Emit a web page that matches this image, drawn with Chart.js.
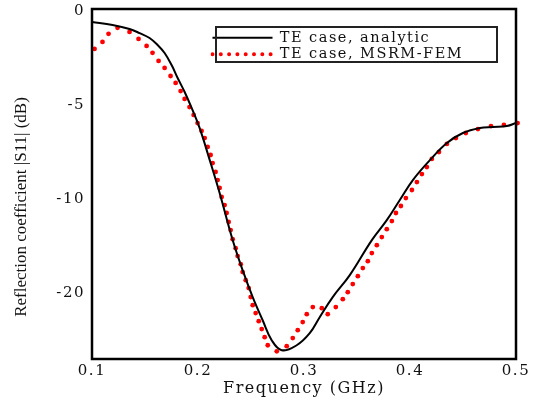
<!DOCTYPE html>
<html><head><meta charset="utf-8">
<script src="https://cdn.jsdelivr.net/npm/chart.js@4"></script>
<style>html,body{margin:0;padding:0;background:#fff}canvas{display:block}</style>
</head><body>
<canvas id="c" width="537" height="400"></canvas>
<script>
const seriesNames = ['TE case, analytic', 'TE case, MSRM-FEM'];

const analyticFreq = [0.100,0.1194,0.1354,0.1449,0.1543,0.1619,0.1685,0.1751,0.1808,0.1874,0.1940,0.2015,0.2110,0.2204,0.2327,0.2421,0.2516,0.2610,0.2695,0.2790,0.2931,0.3054,0.3148,0.3271,0.3432,0.3640,0.3781,0.3904,0.4027,0.4188,0.4348,0.4499,0.4660,0.4782,0.4914,0.500];
const analyticS11  = [-0.59,-0.75,-0.96,-1.18,-1.44,-1.81,-2.24,-2.88,-3.57,-4.31,-5.16,-6.22,-7.92,-9.68,-12.18,-13.78,-15.21,-16.44,-17.50,-18.03,-17.77,-17.13,-16.28,-15.21,-14.04,-12.18,-11.12,-10.05,-8.99,-7.93,-7.02,-6.49,-6.22,-6.17,-6.12,-5.96];

const femFreq = [0.1024,0.1099,0.1156,0.1241,0.1354,0.1439,0.1515,0.1571,0.1628,0.1685,0.1741,0.1789,0.1836,0.1874,0.1920,0.1959,0.1996,0.2034,0.2063,0.2091,0.2119,0.2138,0.2166,0.2185,0.2204,0.2223,0.2251,0.2270,0.2289,0.2308,0.2327,0.2355,0.2374,0.2403,0.2421,0.2450,0.2478,0.2497,0.2516,0.2544,0.2573,0.2601,0.2629,0.2658,0.2743,0.2837,0.2894,0.2941,0.2988,0.3026,0.3083,0.3168,0.3224,0.3300,0.3366,0.3413,0.3460,0.3508,0.3555,0.3602,0.3640,0.3687,0.3734,0.3781,0.3829,0.3867,0.3914,0.3961,0.4018,0.4065,0.4112,0.4159,0.4206,0.4273,0.4348,0.4433,0.4527,0.4641,0.4764,0.4886,0.5015];
const femS11  = [-2.02,-1.65,-1.22,-0.90,-1.12,-1.49,-1.86,-2.23,-2.66,-3.03,-3.46,-3.83,-4.26,-4.68,-5.11,-5.53,-5.96,-6.38,-6.76,-7.23,-7.66,-8.09,-8.56,-8.99,-9.41,-9.89,-10.32,-10.74,-11.22,-11.65,-12.13,-12.61,-13.03,-13.46,-13.88,-14.31,-14.73,-15.21,-15.64,-16.06,-16.49,-16.91,-17.34,-17.77,-18.09,-17.82,-17.39,-16.97,-16.54,-16.12,-15.74,-15.80,-16.12,-15.74,-15.32,-14.95,-14.52,-14.10,-13.67,-13.30,-12.87,-12.45,-12.02,-11.60,-11.17,-10.74,-10.37,-9.95,-9.52,-9.10,-8.67,-8.30,-7.87,-7.50,-7.07,-6.76,-6.49,-6.28,-6.12,-6.06,-5.96];

const xTickValues = [0.1, 0.2, 0.3, 0.4, 0.5];
const yTickValues = [0, -5, -10, -15];
const yTickLabels = ['0', '-5', '-10', '-20'];
const xTitle = 'Frequency (GHz)';
const yTitle = 'Reflection coefficient |S11| (dB)';

const TXT = '#111';
const SERIF = 'DejaVu Serif';

const toPts = (xs, ys) => xs.map((x, i) => ({x: x, y: ys[i]}));

const noPad = s => { s.paddingTop = 0; s.paddingBottom = 0; s.paddingLeft = 0; s.paddingRight = 0; };

const styling = {
  id: 'styling',
  beforeDraw(chart) {
    chart.ctx.letterSpacing = '1.5px';
  },
  afterLayout(chart) {
    const lg = chart.legend;
    if (!lg) return;
    lg.left = 210.5; lg.top = 28.5; lg.right = 537; lg.bottom = 80;
  },
  afterDraw(chart) {
    const ctx = chart.ctx, a = chart.chartArea;
    ctx.save();
    ctx.letterSpacing = '0px';
    ctx.strokeStyle = '#000';
    ctx.lineWidth = 2.5;
    ctx.strokeRect(a.left, a.top, a.right - a.left, a.bottom - a.top);
    // legend frame
    ctx.lineWidth = 2;
    ctx.strokeStyle = '#222';
    ctx.strokeRect(216, 27, 281, 35);
    // y axis title
    ctx.translate(22, 207);
    ctx.rotate(-Math.PI / 2);
    ctx.font = '17px "Liberation Serif"';
    ctx.fillStyle = TXT;
    ctx.textAlign = 'center';
    ctx.textBaseline = 'middle';
    ctx.fillText(yTitle, 0, 0);
    ctx.restore();
  }
};

new Chart(document.getElementById('c'), {
  type: 'scatter',
  data: {
    datasets: [
      {
        label: seriesNames[0],
        data: toPts(analyticFreq, analyticS11),
        showLine: true,
        borderColor: '#000',
        borderWidth: 2,
        pointRadius: 0,
        tension: 0.4
      },
      {
        label: seriesNames[1],
        data: toPts(femFreq, femS11),
        showLine: false,
        pointRadius: 2.4,
        pointBackgroundColor: '#ff0000',
        pointBorderWidth: 0,
        pointBorderColor: '#ff0000',
        clip: false
      }
    ]
  },
  options: {
    responsive: false,
    animation: false,
    layout: {padding: {left: 0, top: 9, right: 21, bottom: 0}},
    plugins: {
      tooltip: {enabled: false},
      legend: {
        position: 'chartArea',
        align: 'start',
        labels: {
          usePointStyle: true,
          pointStyleWidth: 60,
          padding: 2,
          font: {family: SERIF, size: 14.5},
          color: TXT,
          generateLabels: () => [
            {text: seriesNames[0], fontColor: TXT, strokeStyle: '#000', fillStyle: '#000', lineWidth: 2, lineDash: [], pointStyle: 'line', hidden: false, datasetIndex: 0},
            {text: seriesNames[1], fontColor: TXT, strokeStyle: '#ff0000', fillStyle: '#ff0000', lineWidth: 4, lineCap: 'round', lineDash: [0, 8.3], pointStyle: 'line', hidden: false, datasetIndex: 1}
          ]
        }
      }
    },
    scales: {
      x: {
        type: 'linear',
        min: 0.1, max: 0.5,
        afterBuildTicks: s => { s.ticks = xTickValues.map(v => ({value: v})); },
        afterFit: s => { s.height = 41; noPad(s); },
        ticks: {
          callback: v => Number(v).toFixed(1),
          font: {family: SERIF, size: 15},
          color: TXT,
          padding: 3,
          maxRotation: 0,
          autoSkip: false
        },
        grid: {display: false, drawTicks: false},
        border: {display: false},
        title: {display: true, text: xTitle, font: {family: SERIF, size: 16}, color: TXT, padding: {top: 0, bottom: 2}}
      },
      y: {
        type: 'linear',
        min: -18.5, max: 0.1,
        afterBuildTicks: s => { s.ticks = yTickValues.map(v => ({value: v})); },
        afterFit: s => { s.width = 92; noPad(s); },
        ticks: {
          callback: v => yTickLabels[yTickValues.indexOf(v)],
          font: {family: SERIF, size: 15},
          color: TXT,
          padding: 7,
          autoSkip: false
        },
        grid: {display: false, drawTicks: false},
        border: {display: false},
        title: {display: false}
      }
    }
  },
  plugins: [styling]
});
</script>
</body></html>
